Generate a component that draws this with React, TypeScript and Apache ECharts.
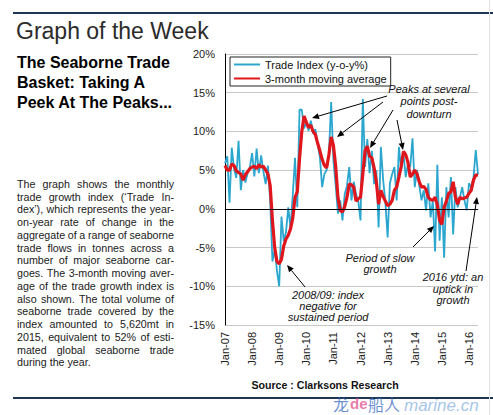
import React, { useEffect, useRef } from "react";
import * as echarts from "echarts";

const FONT = '"Liberation Sans", Arial, Helvetica, sans-serif';

// ---- data ----
const MONTHS = ["Jan", "Feb", "Mar", "Apr", "May", "Jun", "Jul", "Aug", "Sep", "Oct", "Nov", "Dec"];
const YEARS = ["07", "08", "09", "10", "11", "12", "13", "14", "15", "16"];
const MONTH_COUNT = 113; // Jan-07 .. May-16

// Trade Index (y-o-y %), monthly
const tradeIndex: number[] = [
  5.9, 6.8, 0.8, 7.9, 5.2, 4.0, 8.8, 2.4, 5.0, 3.4, 4.6, 5.4,
  7.2, 4.2, 7.8, 4.6, 6.9, 4.8, 3.2, 5.6, 1.0, -6.8, -5.2, -8.0,
  -10.0, -1.0, -4.2, -3.0, 0.2, -2.5, 1.8, 6.6, 0.2, 12.8, 12.8, 10.4,
  11.2, 10.1, 11.4, 9.7, 10.3, 8.4, 6.7, 2.8, 4.5, 5.0, 7.1, 13.8,
  6.2, 3.0, -0.6, 1.1, -1.5, 1.9, 3.0, 5.4, 1.1, 3.5, 1.9, 1.0,
  -1.5, 14.2, 5.4, 9.0, 4.6, 7.5, 3.2, 5.0, -2.4, 8.0, 3.8, 0.8,
  -3.7, 3.3, 4.5, 5.4, 1.1, 8.0, 5.0, 7.2, 4.1, 5.8, 5.4, 9.1,
  2.8, 5.0, 3.0, 1.1, 2.4, -0.2, 3.3, -1.1, 1.1, -5.5, 5.7, -4.1,
  1.5, -6.3, 2.8, -1.1, 4.1, -3.3, 2.8, 0.2, 1.5, 2.8, 1.1, -0.2,
  3.3, 2.8, 4.0, 7.6, 4.5,
];

// 3-month moving average
const movingAvg: number[] = [
  5.6, 5.0, 5.0, 5.8, 5.6, 4.9, 4.7, 4.5, 3.7, 4.4, 4.8, 5.2,
  5.4, 5.5, 5.2, 5.7, 5.4, 5.5, 5.0, 4.5, 3.0, -1.5, -5.0, -6.8,
  -7.1, -6.5, -4.8, -3.9, -3.4, -2.6, -1.2, 1.5, 2.2, 6.5, 10.0, 12.0,
  11.2, 10.5, 10.8, 10.0, 9.6, 8.5, 7.5, 6.4, 5.6, 5.3, 7.0, 9.3,
  8.2, 5.5, 1.5, -0.2, -0.4, 0.3, 1.5, 3.2, 3.1, 2.8, 1.0, 1.3,
  1.5, 4.5, 7.5, 8.1, 6.8, 6.6, 5.3, 3.5, 0.6, 2.4, 1.6, 1.0,
  0.4, 0.6, 1.1, 2.4, 2.8, 4.1, 5.5, 7.4, 7.0, 6.0, 4.1, 4.5,
  5.0, 4.5, 3.5, 2.8, 2.9, 2.5, 1.5, 1.2, 1.1, 1.5, 0.5, -1.5,
  -2.0, 0.2, 1.0, 2.0, 2.2, 3.5, 1.5, 0.6, 1.5, 1.3, 1.4, 1.5,
  2.0, 2.4, 3.7, 4.4, 4.3,
];

const categories: string[] = [];
for (const y of YEARS) for (const m of MONTHS) categories.push(`${m}-${y}`);
const xCategories = categories.slice(0, MONTH_COUNT);

const Y_MIN = -15;
const Y_MAX = 20;
const Y_STEP = 5;

const SERIES_NAMES = ["Trade Index (y-o-y%)", "3-month moving average"];

// ---- texts ----
const TITLE = "Graph of the Week";
const SUBTITLE = ["The Seaborne Trade", "Basket: Taking A", "Peek At The Peaks..."];
const PARAGRAPH = [
  "The graph shows the monthly",
  "trade growth index (\u2018Trade In-",
  "dex\u2019), which represents the year-",
  "on-year rate of change in the",
  "aggregate of a range of seaborne",
  "trade flows in tonnes across a",
  "number of major seaborne car-",
  "goes. The 3-month moving aver-",
  "age of the trade growth index is",
  "also shown. The total volume of",
  "seaborne trade covered by the",
  "index amounted to 5,620mt in",
  "2015, equivalent to 52% of esti-",
  "mated global seaborne trade",
  "during the year.",
];
const NOTE_PEAKS = ["Peaks at several", "points post-", "downturn"];
const NOTE_0809 = ["2008/09: index", "negative for", "sustained period"];
const NOTE_SLOW = ["Period of slow", "growth"];
const NOTE_2016 = ["2016 ytd: an", "uptick in", "growth"];
const SOURCE = "Source : Clarksons Research";

function measure(text: string, font: string): number {
  const c = document.createElement("canvas").getContext("2d");
  if (!c) return text.length * 5.5;
  c.font = font;
  return c.measureText(text).width;
}

function txt(text: string, x: number, y: number, o: any = {}) {
  const align = o.align || "left";
  return {
    type: "text",
    x,
    y,
    silent: true,
    z: 100,
    style: {
      text,
      fill: o.fill || "#111",
      fontSize: o.fontSize || 11,
      fontFamily: o.fontFamily || FONT,
      fontWeight: o.fontWeight || "normal",
      fontStyle: o.fontStyle || "normal",
      opacity: o.opacity == null ? 1 : o.opacity,
      align,
      textAlign: align,
      verticalAlign: "middle",
      textVerticalAlign: "middle",
    },
  };
}

function arrow(x1: number, y1: number, x2: number, y2: number) {
  const dx = x2 - x1;
  const dy = y2 - y1;
  const len = Math.sqrt(dx * dx + dy * dy);
  const ux = dx / len;
  const uy = dy / len;
  const hl = 7;
  const hw = 3;
  const bx = x2 - ux * hl;
  const by = y2 - uy * hl;
  return [
    {
      type: "line",
      silent: true,
      z: 100,
      shape: { x1, y1, x2: bx, y2: by },
      style: { stroke: "#000", lineWidth: 1 },
    },
    {
      type: "polygon",
      silent: true,
      z: 100,
      shape: {
        points: [
          [x2, y2],
          [bx - uy * hw, by + ux * hw],
          [bx + uy * hw, by - ux * hw],
        ],
      },
      style: { fill: "#000" },
    },
  ];
}

function buildGraphics() {
  const g: any[] = [];
  // page rules
  g.push({ type: "rect", silent: true, shape: { x: 13, y: 12, width: 480, height: 2 }, style: { fill: "#1d3654" } });
  g.push({ type: "rect", silent: true, shape: { x: 13, y: 397, width: 480, height: 2 }, style: { fill: "#1d3654" } });
  g.push({ type: "line", silent: true, shape: { x1: 489.5, y1: 0, x2: 489.5, y2: 415 }, style: { stroke: "#e2e2e2", lineWidth: 1 } });

  g.push(txt(TITLE, 16, 31, { fontSize: 23, fill: "#2b2b2b" }));
  SUBTITLE.forEach((s, i) => g.push(txt(s, 17, 62.5 + i * 20, { fontSize: 16, fontWeight: "bold", fill: "#000" })));

  // justified paragraph
  const pSize = 10.7;
  const pFont = `${pSize}px "Liberation Sans", Arial, sans-serif`;
  const left = 17;
  const width = 157;
  PARAGRAPH.forEach((line, i) => {
    const y = 184 + i * 12.74;
    const words = line.split(" ");
    const last = i === PARAGRAPH.length - 1;
    if (last || words.length < 2) {
      g.push(txt(line, left, y, { fontSize: pSize, fill: "#1a1a1a" }));
      return;
    }
    const widths = words.map((w) => measure(w, pFont));
    const total = widths.reduce((a, b) => a + b, 0);
    const gap = Math.max(1.5, (width - total) / (words.length - 1));
    let x = left;
    words.forEach((w, j) => {
      g.push(txt(w, x, y, { fontSize: pSize, fill: "#1a1a1a" }));
      x += widths[j] + gap;
    });
  });

  // annotations
  const it = { fontStyle: "italic", align: "center", fontSize: 11, fill: "#111" };
  NOTE_PEAKS.forEach((s, i) => g.push(txt(s, 429, 88.5 + i * 12.5, it)));
  NOTE_0809.forEach((s, i) => g.push(txt(s, 328, 294.5 + i * 11.3, it)));
  NOTE_SLOW.forEach((s, i) => g.push(txt(s, 380, 257.5 + i * 11.7, it)));
  NOTE_2016.forEach((s, i) => g.push(txt(s, 453, 277 + i * 11.6, it)));

  g.push(...arrow(387, 96, 312, 118));
  g.push(...arrow(383, 102, 337, 137));
  g.push(...arrow(393, 110, 370, 148));
  g.push(...arrow(397, 120, 403, 150));
  g.push(...arrow(305, 287, 287, 265));
  g.push(...arrow(413, 247, 434, 226));
  g.push(...arrow(466, 271, 477, 197));

  g.push(txt(SOURCE, 325, 385, { fontSize: 10.6, fontWeight: "bold", align: "center", fill: "#111" }));

  // watermark
  const cjk = '"Noto Sans CJK SC", sans-serif';
  g.push(txt("\u9f99", 333, 404, { fontSize: 16, fill: "#3a6cc0", opacity: 0.75, fontFamily: cjk }));
  g.push(txt("de", 350, 403, { fontSize: 15, fill: "#e2508a", opacity: 0.75, fontWeight: "bold" }));
  g.push(txt("\u8239\u4eba", 368, 404, { fontSize: 16, fill: "#3a6cc0", opacity: 0.75, fontFamily: cjk }));
  g.push(txt("marine.cn", 404, 405, { fontSize: 17, fill: "#8fb6e3", opacity: 0.8, fontStyle: "italic" }));
  return g;
}

export default function App() {
  const ref = useRef<HTMLDivElement>(null);

  useEffect(() => {
    if (!ref.current) return;
    const chart = echarts.init(ref.current, undefined, { renderer: "svg" });
    const option: any = {
      animation: false,
      backgroundColor: "#ffffff",
      textStyle: { fontFamily: FONT },
      grid: { left: 225, right: 15, top: 54, bottom: 90, containLabel: false },
      legend: {
        orient: "vertical",
        left: 230,
        top: 57,
        itemWidth: 26,
        itemHeight: 10,
        itemGap: 3,
        padding: [2, 4, 2, 3],
        borderColor: "#222",
        borderWidth: 1,
        backgroundColor: "#ffffff",
        itemStyle: { opacity: 0 },
        textStyle: { fontSize: 11, color: "#111", fontFamily: FONT },
        data: SERIES_NAMES,
        z: 10,
      },
      xAxis: {
        type: "category",
        data: xCategories,
        boundaryGap: false,
        axisLine: { show: true, lineStyle: { color: "#c0c0c0", width: 1 } },
        axisTick: { show: false },
        axisLabel: {
          interval: 11,
          rotate: 90,
          margin: 7,
          fontSize: 11,
          color: "#222",
          fontFamily: FONT,
        },
        splitLine: { show: false },
      },
      yAxis: {
        type: "value",
        min: Y_MIN,
        max: Y_MAX,
        interval: Y_STEP,
        axisLine: { show: true, lineStyle: { color: "#000", width: 1 } },
        axisTick: { show: false },
        axisLabel: {
          formatter: "{value}%",
          fontSize: 11,
          color: "#222",
          margin: 10,
          fontFamily: FONT,
        },
        splitLine: { show: true, lineStyle: { color: "#c8c8c8", width: 1 } },
      },
      series: [
        {
          name: SERIES_NAMES[0],
          type: "line",
          data: tradeIndex,
          symbol: "none",
          lineStyle: { color: "#2ba6cf", width: 1.8 },
          itemStyle: { color: "#2ba6cf" },
          z: 2,
          markLine: {
            silent: true,
            symbol: ["none", "none"],
            label: { show: false },
            lineStyle: { color: "#000", width: 1, type: "solid" },
            data: [{ yAxis: 0 }],
          },
        },
        {
          name: SERIES_NAMES[1],
          type: "line",
          data: movingAvg,
          symbol: "none",
          lineStyle: { color: "#e0161d", width: 3.2 },
          itemStyle: { color: "#e0161d" },
          z: 3,
        },
      ],
      graphic: buildGraphics(),
    };
    chart.setOption(option);
    return () => chart.dispose();
  }, []);

  return (
    <div style={{ position: "absolute", left: 0, top: 0, width: 493, height: 415, background: "#fff" }}>
      <div ref={ref} style={{ width: 493, height: 415 }} />
    </div>
  );
}
